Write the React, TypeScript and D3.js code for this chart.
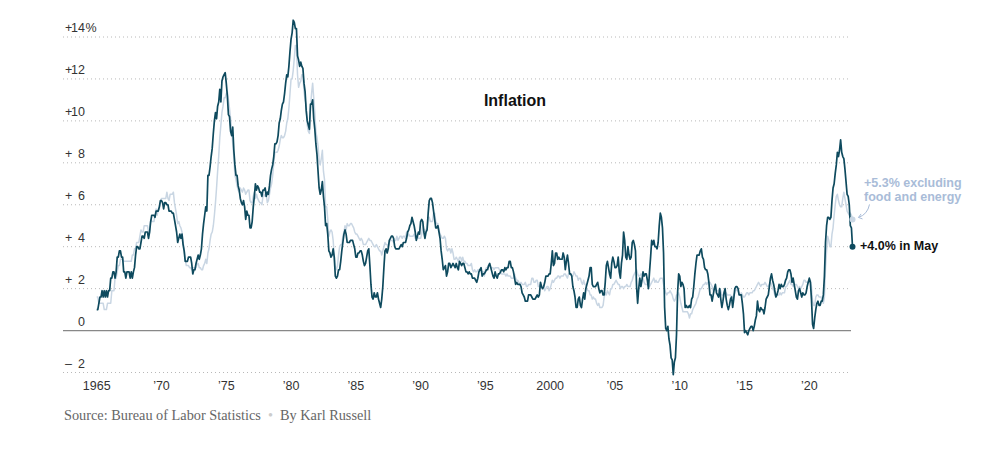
import React from "react";
import * as d3 from "d3";

// Year-over-year change in CPI, monthly, starting January 1965 (percent)
const headline: number[] = [
  1.0, 1.0, 1.3, 1.6, 1.6, 1.9, 1.6, 1.9, 1.6, 1.9, 1.6, 1.9,
  1.9, 2.5, 2.5, 2.8, 2.8, 2.5, 2.8, 3.5, 3.5, 3.8, 3.8, 3.5,
  3.5, 2.8, 2.8, 2.5, 2.8, 2.8, 2.8, 2.5, 2.8, 2.5, 2.8, 3.0,
  3.6, 4.0, 4.0, 3.9, 3.9, 4.2, 4.5, 4.5, 4.4, 4.7, 4.7, 4.7,
  4.4, 4.7, 5.2, 5.5, 5.5, 5.5, 5.4, 5.7, 5.7, 5.7, 5.9, 6.2,
  6.2, 6.1, 5.8, 6.1, 6.1, 6.0, 6.0, 5.7, 5.7, 5.7, 5.6, 5.6,
  5.3, 5.0, 4.7, 4.2, 4.4, 4.6, 4.4, 4.6, 4.1, 3.8, 3.3, 3.3,
  3.3, 3.5, 3.5, 3.5, 3.2, 2.7, 2.9, 2.9, 3.2, 3.4, 3.6, 3.4,
  3.6, 3.9, 4.6, 5.1, 5.5, 5.9, 5.7, 7.4, 7.4, 7.8, 8.3, 8.7,
  9.4, 10.0, 10.4, 10.1, 10.7, 10.9, 11.5, 10.9, 11.9, 12.1, 12.2, 12.3,
  11.8, 11.2, 10.3, 10.2, 9.5, 9.3, 9.7, 8.6, 7.9, 7.4, 7.4, 6.9,
  6.7, 6.3, 6.1, 6.0, 6.2, 5.9, 5.3, 5.7, 5.5, 5.5, 4.9, 4.9,
  5.2, 5.9, 6.4, 7.0, 6.7, 6.9, 6.8, 6.6, 6.6, 6.4, 6.7, 6.7,
  6.8, 6.4, 6.6, 6.5, 6.9, 7.4, 7.7, 7.9, 8.3, 8.9, 8.9, 9.0,
  9.3, 9.9, 10.1, 10.5, 10.8, 10.9, 11.3, 11.8, 12.2, 12.1, 12.6, 13.3,
  13.9, 14.2, 14.8, 14.7, 14.4, 14.4, 13.1, 12.9, 12.6, 12.8, 12.6, 12.5,
  11.8, 11.4, 10.5, 10.0, 9.8, 9.6, 10.8, 10.8, 11.0, 10.1, 9.6, 8.9,
  8.4, 7.6, 6.8, 6.5, 6.7, 7.1, 6.4, 5.9, 5.0, 5.1, 4.6, 3.8,
  3.7, 3.5, 3.6, 3.9, 3.5, 2.6, 2.5, 2.6, 2.9, 2.9, 3.3, 3.8,
  4.2, 4.6, 4.8, 4.6, 4.2, 4.2, 4.2, 4.3, 4.3, 4.3, 4.1, 3.9,
  3.5, 3.5, 3.7, 3.7, 3.8, 3.8, 3.6, 3.3, 3.1, 3.2, 3.5, 3.8,
  3.9, 3.1, 2.2, 1.6, 1.5, 1.8, 1.6, 1.6, 1.8, 1.5, 1.3, 1.1,
  1.5, 2.1, 3.0, 3.8, 3.9, 3.7, 3.9, 4.3, 4.4, 4.5, 4.5, 4.4,
  4.0, 3.9, 3.9, 3.9, 3.9, 4.0, 4.1, 4.0, 4.2, 4.2, 4.2, 4.4,
  4.7, 4.8, 5.0, 5.1, 5.4, 5.2, 5.0, 4.7, 4.3, 4.5, 4.7, 4.6,
  5.2, 5.3, 5.2, 4.7, 4.4, 4.7, 4.8, 5.6, 6.2, 6.3, 6.3, 6.1,
  5.7, 5.3, 4.9, 4.9, 5.0, 4.7, 4.4, 3.8, 3.4, 2.9, 3.0, 3.1,
  2.6, 2.8, 3.2, 3.2, 3.0, 3.1, 3.2, 3.1, 3.0, 3.2, 3.0, 2.9,
  3.3, 3.2, 3.1, 3.2, 3.2, 3.0, 2.8, 2.8, 2.7, 2.8, 2.7, 2.7,
  2.5, 2.5, 2.5, 2.4, 2.3, 2.5, 2.8, 2.9, 3.0, 2.6, 2.7, 2.7,
  2.8, 2.9, 2.9, 3.1, 3.2, 3.0, 2.8, 2.6, 2.5, 2.8, 2.6, 2.5,
  2.7, 2.7, 2.8, 2.9, 2.9, 2.8, 3.0, 2.9, 3.0, 3.0, 3.3, 3.3,
  3.0, 3.0, 2.8, 2.5, 2.2, 2.3, 2.2, 2.2, 2.2, 2.1, 1.8, 1.7,
  1.6, 1.4, 1.4, 1.4, 1.7, 1.7, 1.7, 1.6, 1.5, 1.5, 1.5, 1.6,
  1.7, 1.6, 1.7, 2.3, 2.1, 2.0, 2.1, 2.3, 2.6, 2.6, 2.6, 2.7,
  2.7, 3.2, 3.8, 3.1, 3.2, 3.7, 3.7, 3.4, 3.5, 3.4, 3.4, 3.4,
  3.7, 3.5, 2.9, 3.3, 3.6, 3.2, 2.7, 2.7, 2.6, 2.1, 1.9, 1.6,
  1.1, 1.1, 1.5, 1.6, 1.2, 1.1, 1.5, 1.8, 1.5, 2.0, 2.2, 2.4,
  2.6, 3.0, 3.0, 2.2, 2.1, 2.1, 2.1, 2.2, 2.3, 2.0, 1.8, 1.9,
  1.9, 1.7, 1.7, 2.3, 3.1, 3.3, 3.0, 2.7, 2.5, 3.2, 3.5, 3.3,
  3.0, 3.0, 3.1, 3.5, 2.8, 2.5, 3.2, 3.6, 4.7, 4.3, 3.5, 3.4,
  4.0, 3.6, 3.4, 3.5, 4.2, 4.3, 4.1, 3.8, 2.1, 1.3, 2.0, 2.5,
  2.1, 2.4, 2.8, 2.6, 2.7, 2.7, 2.4, 2.0, 2.8, 3.5, 4.3, 4.1,
  4.3, 4.0, 4.0, 3.9, 4.2, 5.0, 5.6, 5.4, 4.9, 3.7, 1.1, 0.1,
  0.0, 0.2, -0.4, -0.7, -1.3, -1.4, -2.1, -1.5, -1.3, -0.2, 1.8, 2.7,
  2.6, 2.1, 2.3, 2.2, 2.0, 1.1, 1.2, 1.1, 1.1, 1.2, 1.1, 1.5,
  1.6, 2.1, 2.7, 3.2, 3.6, 3.6, 3.6, 3.8, 3.9, 3.5, 3.4, 3.0,
  2.9, 2.9, 2.7, 2.3, 1.7, 1.7, 1.4, 1.7, 2.0, 2.2, 1.8, 1.7,
  1.6, 2.0, 1.5, 1.1, 1.4, 1.8, 2.0, 1.5, 1.2, 1.0, 1.2, 1.5,
  1.6, 1.1, 1.5, 2.0, 2.1, 2.1, 2.0, 1.7, 1.7, 1.7, 1.3, 0.8,
  -0.1, 0.0, -0.1, -0.2, 0.0, 0.1, 0.2, 0.2, 0.0, 0.2, 0.5, 0.7,
  1.4, 1.0, 0.9, 1.1, 1.0, 1.0, 0.8, 1.1, 1.5, 1.6, 1.7, 2.1,
  2.5, 2.7, 2.4, 2.2, 1.9, 1.6, 1.7, 1.9, 2.2, 2.0, 2.2, 2.1,
  2.1, 2.2, 2.4, 2.5, 2.8, 2.9, 2.9, 2.7, 2.3, 2.5, 2.2, 1.9,
  1.6, 1.5, 1.9, 2.0, 1.8, 1.6, 1.8, 1.7, 1.7, 1.8, 2.1, 2.3,
  2.5, 2.3, 1.5, 0.3, 0.1, 0.6, 1.0, 1.3, 1.4, 1.2, 1.2, 1.4,
  1.4, 1.7, 2.6, 4.2, 5.0, 5.4, 5.4, 5.3, 5.4, 6.2, 6.8, 7.0,
  7.5, 7.9, 8.5, 8.3, 8.6, 9.1, 8.5, 8.3, 8.2, 7.7, 7.1, 6.5,
  6.4, 6.0, 5.0, 4.9, 4.0,
];

// CPI excluding food and energy, same months
const core: number[] = [
  1.6, 1.6, 1.3, 1.3, 1.3, 1.3, 1.3, 1.0, 1.0, 1.0, 1.3, 1.3,
  1.3, 1.3, 1.9, 1.9, 1.9, 2.5, 2.5, 2.8, 3.1, 3.1, 3.4, 3.4,
  3.4, 3.3, 3.3, 3.3, 3.3, 3.3, 3.3, 3.3, 3.3, 3.6, 3.6, 3.9,
  3.9, 4.2, 4.2, 4.2, 4.5, 4.8, 4.7, 4.7, 5.0, 5.0, 5.0, 5.0,
  4.7, 4.7, 5.3, 5.2, 5.2, 5.2, 5.5, 5.8, 5.5, 5.8, 5.8, 6.1,
  6.3, 6.3, 6.3, 6.3, 6.3, 6.6, 6.3, 6.2, 6.5, 6.5, 6.5, 6.6,
  6.1, 5.8, 5.5, 5.1, 5.2, 5.0, 4.9, 4.7, 4.2, 3.9, 3.4, 3.1,
  3.1, 3.1, 3.0, 3.0, 2.9, 3.0, 3.0, 3.0, 3.0, 3.2, 3.2, 3.0,
  3.0, 2.9, 2.9, 3.1, 3.2, 3.4, 3.2, 3.7, 3.9, 4.3, 4.6, 4.7,
  5.0, 5.5, 6.1, 6.8, 7.6, 8.3, 9.2, 9.8, 10.4, 10.7, 11.1, 11.1,
  11.3, 11.4, 11.0, 10.6, 10.1, 9.6, 8.9, 8.3, 7.4, 7.2, 6.9, 6.7,
  6.6, 6.8, 6.7, 6.6, 6.8, 6.7, 6.5, 6.6, 6.7, 6.7, 6.2, 6.1,
  6.1, 6.4, 6.6, 6.3, 6.5, 6.3, 6.2, 6.1, 6.1, 6.0, 6.4, 6.5,
  6.4, 6.5, 6.1, 6.2, 6.5, 6.8, 7.0, 7.4, 8.0, 8.5, 8.5, 8.5,
  8.6, 8.8, 9.1, 9.3, 9.2, 9.2, 9.3, 9.5, 9.9, 10.1, 10.6, 11.3,
  12.0, 12.0, 12.4, 13.0, 13.6, 13.6, 12.2, 11.6, 11.8, 11.9, 12.2, 12.2,
  11.4, 11.0, 10.8, 9.8, 9.5, 9.4, 10.6, 11.3, 11.8, 11.1, 10.4, 9.5,
  9.2, 8.8, 8.1, 7.9, 8.2, 8.6, 7.6, 7.2, 5.9, 5.9, 5.3, 4.5,
  4.7, 4.8, 4.7, 4.3, 3.6, 3.0, 2.9, 3.1, 3.6, 4.0, 4.1, 4.1,
  4.5, 4.7, 5.0, 4.8, 5.1, 5.0, 5.0, 5.1, 5.1, 5.0, 4.9, 4.7,
  4.6, 4.6, 4.5, 4.4, 4.3, 4.4, 4.3, 4.1, 4.1, 4.1, 4.2, 4.3,
  4.4, 4.3, 4.3, 4.2, 4.1, 4.0, 4.0, 4.1, 4.0, 3.9, 3.8, 3.8,
  3.6, 3.8, 4.0, 4.2, 4.1, 4.1, 4.0, 4.2, 4.3, 4.3, 4.3, 4.2,
  4.3, 4.3, 4.5, 4.3, 4.4, 4.5, 4.5, 4.4, 4.5, 4.5, 4.4, 4.7,
  4.5, 4.6, 4.5, 4.5, 4.5, 4.5, 4.6, 4.4, 4.4, 4.5, 4.4, 4.4,
  4.4, 4.6, 5.0, 4.8, 4.8, 4.8, 4.9, 5.4, 5.4, 5.2, 5.2, 5.2,
  5.6, 5.6, 5.2, 5.1, 5.1, 4.8, 4.6, 4.5, 4.4, 4.4, 4.5, 4.4,
  3.9, 3.8, 3.9, 3.9, 3.7, 3.9, 3.7, 3.4, 3.4, 3.5, 3.4, 3.3,
  3.5, 3.5, 3.3, 3.5, 3.3, 3.3, 3.2, 3.2, 3.1, 3.1, 3.1, 3.2,
  2.9, 2.8, 2.9, 2.8, 2.8, 2.9, 2.9, 2.9, 2.9, 2.8, 2.8, 2.6,
  2.9, 3.0, 3.0, 3.1, 3.1, 3.0, 3.0, 3.0, 2.9, 3.0, 3.0, 3.0,
  3.0, 2.9, 2.8, 2.7, 2.7, 2.7, 2.7, 2.6, 2.7, 2.6, 2.6, 2.6,
  2.5, 2.5, 2.5, 2.7, 2.5, 2.4, 2.4, 2.3, 2.2, 2.3, 2.2, 2.2,
  2.2, 2.3, 2.1, 2.1, 2.2, 2.2, 2.2, 2.5, 2.5, 2.3, 2.3, 2.4,
  2.4, 2.1, 2.1, 2.2, 2.0, 2.1, 2.1, 1.9, 2.0, 2.1, 2.1, 1.9,
  2.0, 2.2, 2.4, 2.3, 2.4, 2.5, 2.5, 2.6, 2.6, 2.5, 2.6, 2.6,
  2.6, 2.7, 2.7, 2.6, 2.5, 2.7, 2.7, 2.7, 2.6, 2.6, 2.8, 2.7,
  2.6, 2.6, 2.4, 2.5, 2.5, 2.3, 2.2, 2.4, 2.2, 2.2, 2.0, 1.9,
  1.9, 1.7, 1.7, 1.5, 1.6, 1.5, 1.5, 1.3, 1.2, 1.3, 1.1, 1.1,
  1.1, 1.2, 1.6, 1.8, 1.7, 1.9, 1.8, 1.7, 2.0, 2.0, 2.2, 2.2,
  2.3, 2.4, 2.3, 2.2, 2.2, 2.0, 2.1, 2.1, 2.0, 2.1, 2.1, 2.2,
  2.1, 2.1, 2.1, 2.3, 2.4, 2.6, 2.7, 2.8, 2.9, 2.7, 2.6, 2.6,
  2.7, 2.7, 2.5, 2.3, 2.2, 2.2, 2.2, 2.1, 2.1, 2.2, 2.3, 2.4,
  2.5, 2.3, 2.4, 2.3, 2.3, 2.4, 2.5, 2.5, 2.5, 2.2, 2.0, 1.8,
  1.7, 1.8, 1.8, 1.9, 1.8, 1.7, 1.5, 1.4, 1.5, 1.7, 1.7, 1.8,
  1.6, 1.3, 1.1, 0.9, 0.9, 0.9, 0.9, 0.9, 0.8, 0.6, 0.8, 0.8,
  1.0, 1.1, 1.2, 1.3, 1.5, 1.6, 1.8, 2.0, 2.0, 2.1, 2.2, 2.2,
  2.3, 2.2, 2.3, 2.3, 2.3, 2.2, 2.1, 1.9, 2.0, 2.0, 1.9, 1.9,
  1.9, 2.0, 1.9, 1.7, 1.7, 1.6, 1.7, 1.8, 1.7, 1.7, 1.7, 1.7,
  1.6, 1.6, 1.7, 1.8, 2.0, 1.9, 1.9, 1.7, 1.7, 1.8, 1.7, 1.6,
  1.6, 1.7, 1.8, 1.8, 1.7, 1.8, 1.8, 1.8, 1.9, 1.9, 2.0, 2.1,
  2.2, 2.3, 2.2, 2.1, 2.2, 2.2, 2.2, 2.3, 2.2, 2.1, 2.1, 2.2,
  2.3, 2.2, 2.0, 1.9, 1.7, 1.7, 1.7, 1.7, 1.7, 1.8, 1.7, 1.8,
  1.8, 1.8, 2.1, 2.1, 2.2, 2.3, 2.4, 2.2, 2.2, 2.1, 2.2, 2.2,
  2.2, 2.1, 2.0, 2.1, 2.0, 2.1, 2.2, 2.4, 2.4, 2.3, 2.3, 2.3,
  2.3, 2.4, 2.1, 1.4, 1.2, 1.2, 1.6, 1.7, 1.7, 1.6, 1.6, 1.6,
  1.4, 1.3, 1.6, 3.0, 3.8, 4.5, 4.3, 4.0, 4.0, 4.6, 4.9, 5.5,
  6.0, 6.4, 6.5, 6.2, 6.0, 5.9, 5.9, 6.3, 6.6, 6.3, 6.0, 5.7,
  5.6, 5.5, 5.6, 5.5, 5.3,
];

const startYear = 1965;
const yTicks: number[] = [-2, 0, 2, 4, 6, 8, 10, 12, 14];
const xTicks: number[] = [1965, 1970, 1975, 1980, 1985, 1990, 1995, 2000, 2005, 2010, 2015, 2020];
const xTickLabels: string[] = ["1965", "\u201970", "\u201975", "\u201980", "\u201985", "\u201990", "\u201995", "2000", "\u201905", "\u201910", "\u201915", "\u201920"];

const DARK = "#0e4a5e";
const LIGHT = "#c9d6e3";
const LIGHT_TEXT = "#a9bcd8";
const SANS = "'Liberation Sans', Arial, Helvetica, sans-serif";
const SERIF = "'Liberation Serif', Georgia, serif";

export default function App() {
  const W = 995;
  const H = 450;
  const lastIdx = headline.length - 1;
  const x = d3.scaleLinear().domain([startYear, startYear + lastIdx / 12]).range([96.7, 852.5]);
  const y = d3.scaleLinear().domain([-2, 14]).range([372.5, 37]);
  const gridX0 = 63;
  const gridX1 = 851;

  const line = d3
    .line<number>()
    .x((_, i) => x(startYear + i / 12))
    .y((d) => y(d))
    .curve(d3.curveLinear);

  const endX = x(startYear + lastIdx / 12);
  const endY = y(headline[lastIdx]);
  const coreEndY = y(core[core.length - 1]);

  return (
    <svg
      width={W}
      height={H}
      style={{ position: "absolute", left: 0, top: 0, background: "#fff" }}
    >
      {/* gridlines */}
      {yTicks.map((t) => (
        <line
          key={"g" + t}
          x1={gridX0}
          x2={gridX1}
          y1={y(t)}
          y2={y(t)}
          stroke={t === 0 ? "#888" : "#b8b8b8"}
          strokeWidth={t === 0 ? 1.2 : 1}
          strokeDasharray={t === 0 ? undefined : "1,3"}
        />
      ))}
      {/* y labels */}
      {yTicks.map((t) => {
        const sign = t > 0 ? "+" : t < 0 ? "\u2013" : "";
        return (
          <g key={"yl" + t} fontFamily={SANS} fontSize={12.5} fill="#333">
            {sign && (
              <text x={65} y={y(t) - 5}>
                {sign}
              </text>
            )}
            <text x={85} y={y(t) - 5} textAnchor="end">
              {Math.abs(t)}
            </text>
            {t === 14 && (
              <text x={85.5} y={y(t) - 5}>
                %
              </text>
            )}
          </g>
        );
      })}
      {/* x labels */}
      {xTicks.map((t, i) => (
        <text
          key={"xl" + t}
          x={x(t)}
          y={390}
          textAnchor="middle"
          fontFamily={SANS}
          fontSize={12.5}
          fill="#333"
        >
          {xTickLabels[i]}
        </text>
      ))}

      {/* lines */}
      <path d={line(core) || ""} fill="none" stroke={LIGHT} strokeWidth={1.5} strokeLinejoin="round" />
      <path d={line(headline) || ""} fill="none" stroke={DARK} strokeWidth={1.7} strokeLinejoin="round" />

      {/* end markers */}
      <circle cx={endX} cy={coreEndY} r={3} fill={LIGHT} />
      <circle cx={endX} cy={endY} r={3} fill={DARK} />

      {/* title */}
      <text x={515} y={106} textAnchor="middle" fontFamily={SANS} fontWeight="bold" fontSize={16} fill="#111">
        Inflation
      </text>

      {/* annotations */}
      <text fontFamily={SANS} fontWeight="bold" fontSize={12.5} fill={LIGHT_TEXT}>
        <tspan x={864} y={187}>+5.3% excluding</tspan>
        <tspan x={864} y={201}>food and energy</tspan>
      </text>
      <path
        d={`M ${endX + 17} ${coreEndY - 15} Q ${endX + 15} ${coreEndY - 5} ${endX + 6} ${coreEndY - 2}`}
        fill="none"
        stroke={LIGHT_TEXT}
        strokeWidth={1}
      />
      <path
        d={`M ${endX + 8.5} ${coreEndY - 5.5} L ${endX + 6} ${coreEndY - 2} L ${endX + 10} ${coreEndY - 0.5}`}
        fill="none"
        stroke={LIGHT_TEXT}
        strokeWidth={1}
      />
      <text x={860} y={250} fontFamily={SANS} fontWeight="bold" fontSize={12.5} fill="#111">
        +4.0% in May
      </text>

      {/* source */}
      <text x={64} y={420} fontFamily={SERIF} fontSize={14.3} fill="#666">
        Source: Bureau of Labor Statistics
        <tspan fill="#ccc" dx={7}>{"\u2022"}</tspan>
        <tspan dx={7}>By Karl Russell</tspan>
      </text>
    </svg>
  );
}
